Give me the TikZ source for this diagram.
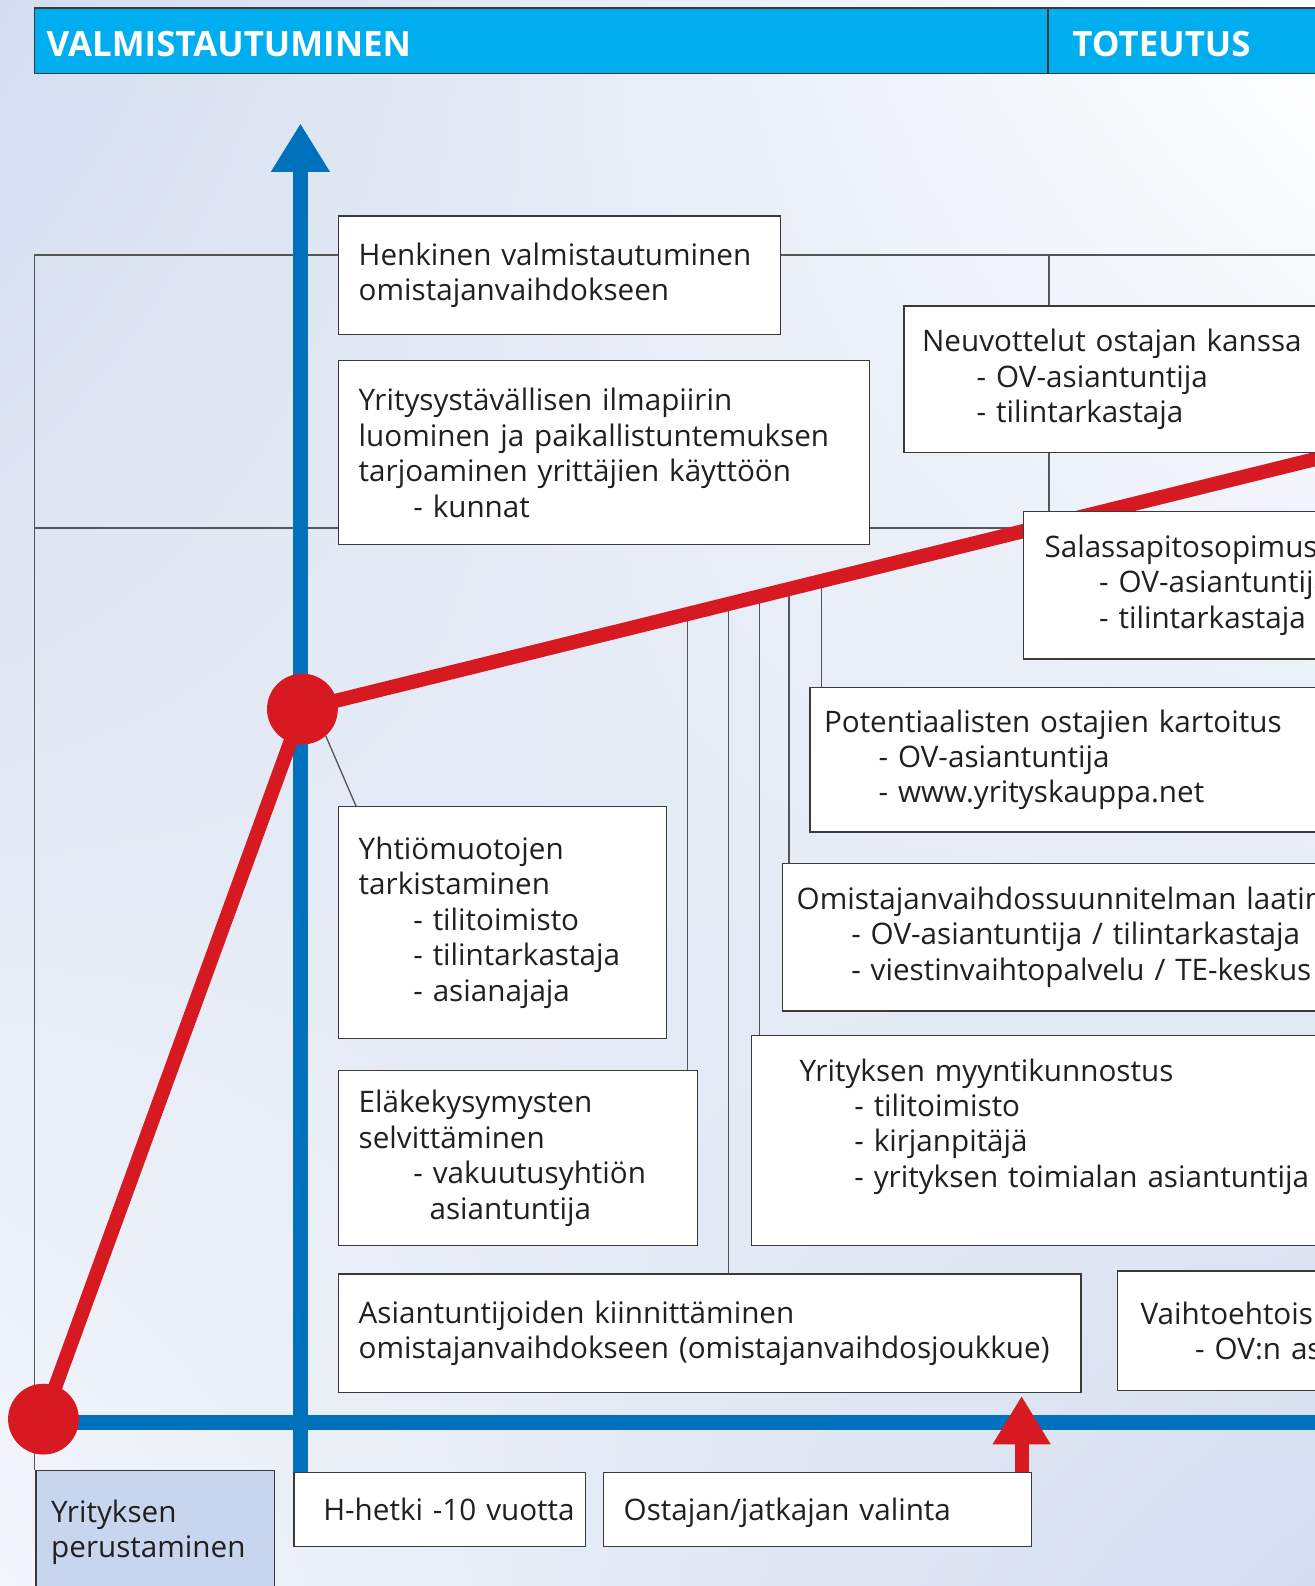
\documentclass[tikz,border=0pt]{standalone}
\usepackage{fontspec}
\setmainfont{Open Sans}
\usetikzlibrary{calc,arrows.meta,shadings}
\definecolor{hdr}{HTML}{00AEEF}
\definecolor{axisblue}{HTML}{0071BD}
\definecolor{redl}{HTML}{D71A21}
\definecolor{bgblue}{HTML}{D3DDEF}
\definecolor{bglight}{HTML}{F3F6FB}
\definecolor{boxline}{HTML}{3A3A3A}
\definecolor{thinc}{HTML}{555555}
\definecolor{txt}{HTML}{231F20}
\definecolor{lblue}{HTML}{C7D5EE}
\newcommand{\bodyfont}{\fontsize{29.3}{35}\selectfont}
\newcommand{\dashind}{\hspace*{54pt}}
\pgfdeclarelayer{back}
\pgfdeclarelayer{mid}
\pgfsetlayers{back,mid,main}
\begin{document}
\begin{tikzpicture}[x=1pt,y=-1pt,
  box/.style={draw=boxline, fill=white, line width=1.3pt, anchor=north west, align=left, text=txt, font=\bodyfont, inner xsep=0pt, inner ysep=0pt},
  lsep/.style={execute at begin node={\leftskip=#1\relax}},
  conn/.style={draw=thinc, line width=1.3pt},
  blueaxis/.style={draw=axisblue, line width=15pt},
  redline/.style={draw=redl, line width=14pt, line join=round},
  dot/.style={circle, fill=redl, minimum size=70pt, inner sep=0pt},
  hdrtext/.style={text=white, font=\fontsize{34.5}{40}\selectfont\bfseries, anchor=west, inner sep=0pt}]
\useasboundingbox (0,0) rectangle (1300,1568);
\clip (0,0) rectangle (1300,1568);
\begin{pgfonlayer}{back}
\begin{scope}[y=1pt]
\shade[upper left=bgblue, upper right=white, lower left=bglight, lower right=bgblue] (0,-1568) rectangle (1300,0);
\end{scope}
\end{pgfonlayer}
% header
\fill[hdr] (34,8) rectangle (1310,73);
\draw[boxline, line width=1.2pt] (1310,8) -- (34,8) -- (34,73) -- (1310,73);
\draw[boxline, line width=1.2pt] (1036,8) -- (1036,73);
\node[hdrtext] (hv) at (46,44) {VALMISTAUTUMINEN};
\node[hdrtext] (ht) at (1060,44) {TOTEUTUS};
% boxes
\node[box, text width=437pt, lsep=20pt, minimum height=117pt] (henk) at (334,213) {Henkinen valmistautuminen\\omistajanvaihdokseen};
\node[box, text width=525pt, lsep=20pt, minimum height=182pt] (yrit) at (334,356) {Yritysystävällisen ilmapiirin\\luominen ja paikallistuntemuksen\\tarjoaminen yrittäjien käyttöön\\\dashind- kunnat};
\node[box, text width=500pt, lsep=18pt, minimum height=145pt] (neuv) at (893,302) {Neuvottelut ostajan kanssa\\\dashind- OV-asiantuntija\\\dashind- tilintarkastaja};
\node[box, text width=400pt, lsep=21pt, minimum height=146pt] (sala) at (1011,505) {Salassapitosopimus\\\dashind- OV-asiantuntija\\\dashind- tilintarkastaja};
\node[box, text width=600pt, lsep=14pt, minimum height=143pt] (pote) at (800,679) {Potentiaalisten ostajien kartoitus\\\dashind- OV-asiantuntija\\\dashind- www.yrityskauppa.net};
\node[box, text width=700pt, lsep=14pt, minimum height=146pt] (omis) at (773,853) {Omistajanvaihdossuunnitelman laatiminen\\\dashind- OV-asiantuntija / tilintarkastaja\\\dashind- viestinvaihtopalvelu / TE-keskus};
\node[box, text width=324pt, lsep=20pt, minimum height=229pt] (yhtio) at (334,797) {Yhtiömuotojen\\tarkistaminen\\\dashind- tilitoimisto\\\dashind- tilintarkastaja\\\dashind- asianajaja};
\node[box, text width=355pt, lsep=20pt, minimum height=173pt] (elake) at (334,1058) {Eläkekysymysten\\selvittäminen\\\dashind- vakuutusyhtiön\\\hspace*{70pt}asiantuntija};
\node[box, text width=700pt, lsep=48pt, minimum height=208pt] (myyn) at (742,1023) {Yrityksen myyntikunnostus\\\dashind- tilitoimisto\\\dashind- kirjanpitäjä\\\dashind- yrityksen toimialan asiantuntija\\\mbox{}};
\node[box, text width=734pt, lsep=20pt, minimum height=117pt] (asia) at (334,1259) {Asiantuntijoiden kiinnittäminen\\omistajanvaihdokseen (omistajanvaihdosjoukkue)};
\node[box, text width=400pt, lsep=23pt, minimum height=118pt] (vaih) at (1104,1256) {Vaihtoehtois\\\dashind- OV:n as};
\node[box, fill=lblue, text width=236pt, lsep=15pt, minimum height=150pt] (yper) at (35,1453) {Yrityksen\\perustaminen\\\mbox{}};
\node[box, text width=288pt, lsep=29pt, minimum height=73pt] (hh) at (290,1455) {\mbox{H-hetki -10 vuotta}};
\node[box, text width=423pt, lsep=20pt, minimum height=73pt, text height=21.5pt, text depth=0pt] (ost) at (596,1455) {\mbox{Ostajan/jatkajan valinta}};
% circles
\node[dot] (c0) at (43,1403) {};
\node[dot] (c1) at (299,701) {};
\coordinate (rEnd) at (1312,451);
\coordinate (axtip) at (297,122);
\coordinate (hEnd) at (1310,1406);
\coordinate (fl) at (34,252);
\coordinate (fm) at (34,522);
\coordinate (vx) at (1037,252);
\coordinate (r1) at ($(c1.center)!0.3761!(rEnd)$);
\coordinate (r2) at ($(c1.center)!0.4156!(rEnd)$);
\coordinate (r3) at ($(c1.center)!0.4462!(rEnd)$);
\coordinate (r4) at ($(c1.center)!0.4748!(rEnd)$);
\coordinate (r5) at ($(c1.center)!0.5064!(rEnd)$);
\coordinate (ra) at (1010,1380);
\begin{pgfonlayer}{mid}
% frame lines
\draw[conn] (fl |- yper.north) -- (fl) -- (1310,252);
\draw[conn] (fm) -- (fm -| sala.west);
\draw[conn] (vx) -- (vx |- neuv.north);
\draw[conn] (vx |- neuv.south) -- (vx |- sala.north);
% connectors from red line
\draw[conn] (r1) -- (r1 |- elake.north);
\draw[conn] (r2) -- (r2 |- asia.north);
\draw[conn] (r3) -- (r3 |- myyn.north);
\draw[conn] (r4) -- (r4 |- omis.north);
\draw[conn] (r5) -- (r5 |- pote.north);
\draw[conn] (c1.-49) -- ($(yhtio.north west)+(18,0)$);
% blue axes
\draw[blueaxis, -{Triangle[width=55pt,length=48pt]}] (axtip |- hh.north) -- (axtip);
\draw[blueaxis] (c0.center |- hEnd) -- (hEnd);
% red line
\draw[redline] (c0.center) -- (c1.center) -- (rEnd);
\end{pgfonlayer}
% red arrow
\draw[draw=redl, line width=14pt, -{Triangle[width=54pt,length=48pt]}] (ost.north -| ra) -- (ra);
\end{tikzpicture}
\end{document}
